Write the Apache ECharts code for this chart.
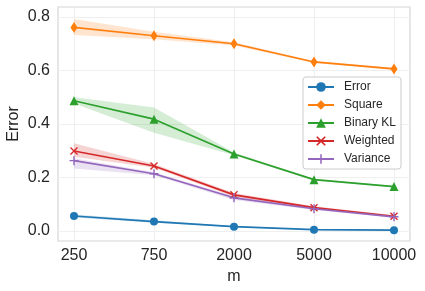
<!DOCTYPE html>
<html>
<head>
<meta charset="utf-8">
<script src="https://cdn.jsdelivr.net/npm/echarts@6/dist/echarts.min.js"></script>
<style>html,body{margin:0;padding:0;background:#fff}#c{width:425px;height:291px}</style>
</head>
<body>
<div id="c"></div>
<script>
const categories = ['250', '750', '2000', '5000', '10000'];
const yTicks = [0, 0.2, 0.4, 0.6, 0.8];

const errorMean = [0.056, 0.035, 0.016, 0.005, 0.003];
const errorLo   = [0.050, 0.031, 0.014, 0.004, 0.002];
const errorHi   = [0.062, 0.040, 0.018, 0.006, 0.004];

const squareMean = [0.761, 0.730, 0.700, 0.632, 0.606];
const squareLo   = [0.733, 0.717, 0.694, 0.628, 0.602];
const squareHi   = [0.793, 0.745, 0.706, 0.636, 0.610];

const klMean = [0.487, 0.418, 0.288, 0.192, 0.166];
const klLo   = [0.477, 0.367, 0.283, 0.189, 0.163];
const klHi   = [0.500, 0.462, 0.293, 0.195, 0.169];

const weightedMean = [0.299, 0.243, 0.135, 0.087, 0.055];
const weightedLo   = [0.278, 0.236, 0.128, 0.082, 0.050];
const weightedHi   = [0.328, 0.250, 0.142, 0.092, 0.060];

const varianceMean = [0.263, 0.214, 0.124, 0.083, 0.053];
const varianceLo   = [0.234, 0.208, 0.116, 0.078, 0.049];
const varianceHi   = [0.272, 0.220, 0.130, 0.088, 0.057];

const FONT = 'Liberation Sans, Arial, sans-serif';
const X_PATH = 'path://M1.2,0L5,3.8L8.8,0L10,1.2L6.2,5L10,8.8L8.8,10L5,6.2L1.2,10L0,8.8L3.8,5L0,1.2Z';
const PLUS_PATH = 'path://M4.2,0H5.8V4.2H10V5.8H5.8V10H4.2V5.8H0V4.2H4.2Z';

const seriesDefs = [
  {name: 'Error', color: '#1f77b4', mean: errorMean, lo: errorLo, hi: errorHi, symbol: 'circle', size: 8},
  {name: 'Square', color: '#ff7f0e', mean: squareMean, lo: squareLo, hi: squareHi, symbol: 'diamond', size: [7, 11]},
  {name: 'Binary KL', color: '#2ca02c', mean: klMean, lo: klLo, hi: klHi, symbol: 'triangle', size: 9},
  {name: 'Weighted', color: '#d62728', mean: weightedMean, lo: weightedLo, hi: weightedHi, symbol: X_PATH, size: 8},
  {name: 'Variance', color: '#9467bd', mean: varianceMean, lo: varianceLo, hi: varianceHi, symbol: PLUS_PATH, size: 9}
];

const series = [];
seriesDefs.forEach(function (d) {
  series.push({
    type: 'custom',
    name: d.name + ' band',
    silent: true,
    z: 1,
    data: [[0]],
    renderItem: function (params, api) {
      const pts = [];
      for (let i = 0; i < d.hi.length; i++) pts.push(api.coord([i, d.hi[i]]));
      for (let i = d.lo.length - 1; i >= 0; i--) pts.push(api.coord([i, d.lo[i]]));
      return {type: 'polygon', shape: {points: pts}, style: {fill: d.color, opacity: 0.2}};
    }
  });
});
seriesDefs.forEach(function (d) {
  series.push({
    type: 'line',
    name: d.name,
    z: 3,
    data: d.mean.map(function (v, i) { return [i, v]; }),
    symbol: d.symbol,
    symbolSize: d.size,
    showSymbol: true,
    lineStyle: {color: d.color, width: 1.7},
    itemStyle: {color: d.color},
    emphasis: {disabled: true},
    animation: false
  });
});

const chart = echarts.init(document.getElementById('c'), null, {renderer: 'canvas'});
chart.setOption({
  animation: false,
  backgroundColor: '#fff',
  grid: {left: 58, top: 7, right: 15, bottom: 50, show: true, containLabel: false, outerBoundsMode: 'none', borderColor: '#d6d6d6', borderWidth: 1.2, backgroundColor: 'transparent'},
  xAxis: {
    type: 'value', min: -0.2, max: 4.2,
    name: 'm', nameLocation: 'middle', nameGap: 28, nameMoveOverlap: false,
    nameTextStyle: {fontFamily: FONT, fontSize: 16, color: '#262626'},
    axisLine: {show: false},
    axisTick: {show: false, customValues: [0, 1, 2, 3, 4]},
    axisLabel: {customValues: [0, 1, 2, 3, 4], formatter: function (v) { return categories[Math.round(v)]; }, fontFamily: FONT, fontSize: 16, color: '#262626', margin: 7},
    splitLine: {show: true, lineStyle: {color: '#efefef', width: 1}}
  },
  yAxis: {
    type: 'value', min: -0.0375, max: 0.8375,
    name: 'Error', nameLocation: 'middle', nameGap: 36, nameMoveOverlap: false,
    nameTextStyle: {fontFamily: FONT, fontSize: 16, color: '#262626'},
    axisLine: {show: false},
    axisTick: {show: false, customValues: yTicks},
    axisLabel: {customValues: yTicks, formatter: function (v) { return v.toFixed(1); }, fontFamily: FONT, fontSize: 16, color: '#262626', margin: 8},
    splitLine: {show: true, lineStyle: {color: '#efefef', width: 1}}
  },
  legend: {
    data: seriesDefs.map(function (d) { return d.name; }),
    orient: 'vertical', left: 303, top: 77,
    itemWidth: 26, itemHeight: 12, itemGap: 6,
    padding: [4, 5, 4, 4],
    backgroundColor: 'rgba(255,255,255,0.85)',
    borderColor: '#cccccc', borderWidth: 1, borderRadius: 3,
    textStyle: {fontFamily: FONT, fontSize: 12, color: '#262626', padding: [0, 0, 0, 5]},
    selectedMode: false
  },
  series: series
});
</script>
</body>
</html>
